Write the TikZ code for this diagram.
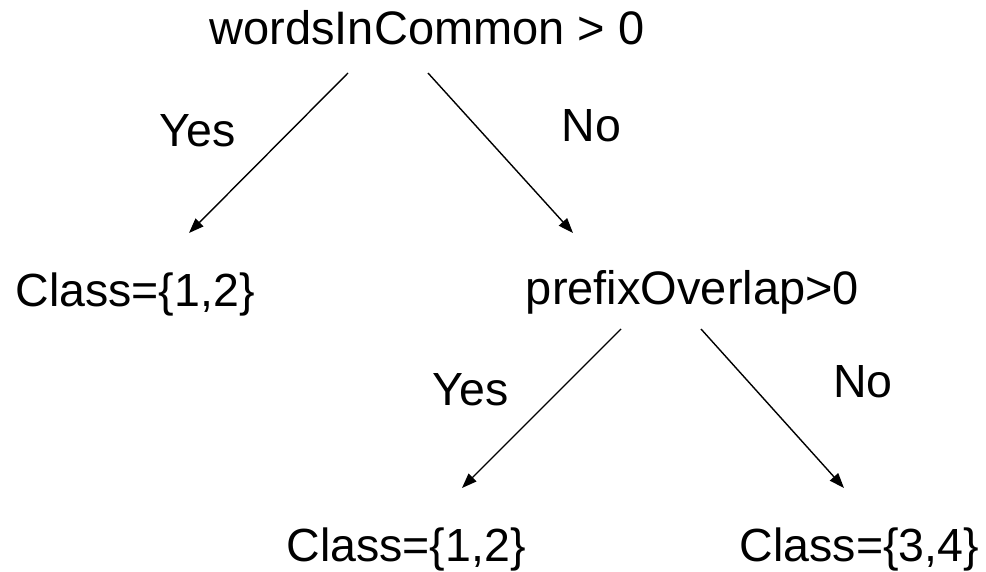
\documentclass[tikz,border=0pt]{standalone}
\usepackage{fontspec}
\setmainfont{Liberation Sans}
\usepackage{tikz}
\usetikzlibrary{arrows.meta,positioning}
\tikzset{
  test/.style={inner sep=0pt,anchor=base,font=\fontsize{47}{56}\selectfont},
  leaf/.style={inner sep=0pt,anchor=base,font=\fontsize{46.5}{56}\selectfont},
  answer/.style={inner sep=0pt,anchor=base,font=\fontsize{46.5}{56}\selectfont},
  arrow/.style={-{Triangle[length=15pt,width=11pt]},line width=1.4pt,draw=black}
}
\begin{document}
\begin{tikzpicture}[x=1pt,y=-1pt]
\useasboundingbox (0,0) rectangle (986,572);
\node[test] (root) at (427,45) {wordsInCommon > 0};
\node[answer] (yesA) at (197.5,147) {Yes};
\node[answer] (noA) at (591.5,142) {No};
\node[leaf] (classA) at (135,307) {Class=\{1,2\}};
\node[test] (prefix) at (692.5,305) {prefixOverlap>0};
\node[answer] (yesB) at (470.5,405) {Yes};
\node[answer] (noB) at (863,397) {No};
\node[leaf] (classB) at (406,561) {Class=\{1,2\}};
\node[leaf] (classC) at (859.5,561) {Class=\{3,4\}};
\draw[arrow] ([xshift=-79pt,yshift=-28pt]root.base) -- ([xshift=54pt,yshift=74pt]classA.base);
\draw[arrow] ([xshift=1pt,yshift=-28pt]root.base) -- ([xshift=-119.5pt,yshift=72pt]prefix.base);
\draw[arrow] ([xshift=-71.5pt,yshift=-24pt]prefix.base) -- ([xshift=56pt,yshift=73pt]classB.base);
\draw[arrow] ([xshift=8.5pt,yshift=-24pt]prefix.base) -- ([xshift=-15.5pt,yshift=73pt]classC.base);
\end{tikzpicture}
\end{document}
